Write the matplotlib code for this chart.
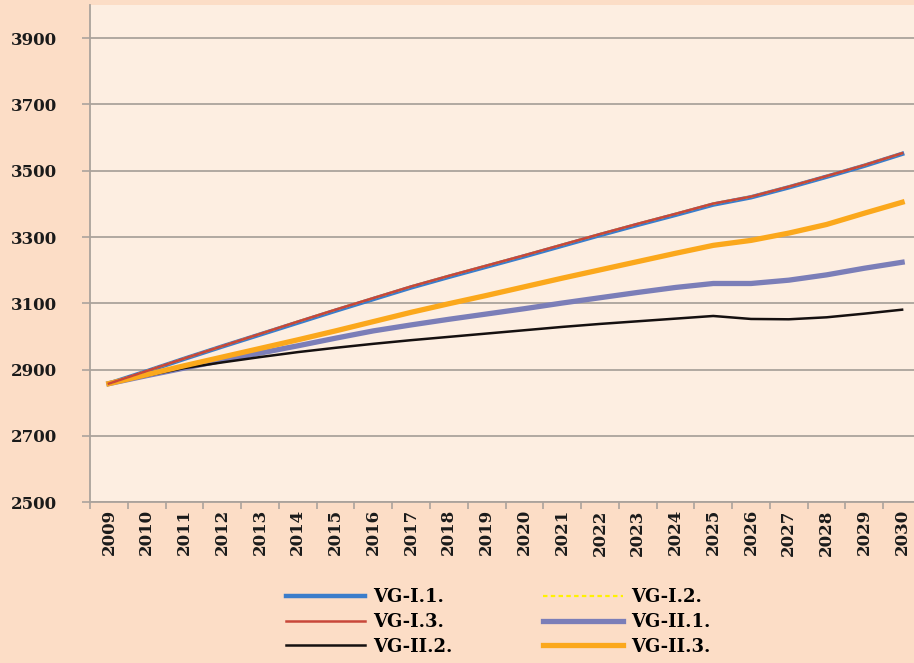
import matplotlib
matplotlib.use("Agg")
import matplotlib.pyplot as plt
import numpy as np

years = [str(y) for y in range(2009, 2031)]

vg_i1 = [2858, 2895, 2933, 2970, 3006, 3042, 3078, 3113, 3148, 3180, 3211, 3242,
         3274, 3306, 3337, 3367, 3398, 3420, 3450, 3482, 3515, 3551]
vg_i2 = [2858, 2896, 2934, 2971, 3008, 3045, 3081, 3116, 3151, 3183, 3214, 3245,
         3277, 3309, 3340, 3370, 3401, 3422, 3452, 3484, 3517, 3553]
vg_i3 = [2858, 2896, 2934, 2971, 3008, 3045, 3081, 3116, 3151, 3183, 3214, 3245,
         3277, 3309, 3340, 3370, 3401, 3422, 3452, 3484, 3517, 3553]
vg_ii1 = [2858, 2882, 2905, 2928, 2950, 2972, 2995, 3017, 3035, 3052, 3068, 3084,
          3101, 3117, 3133, 3148, 3160, 3160, 3170, 3186, 3206, 3224]
vg_ii2 = [2858, 2882, 2905, 2922, 2938, 2953, 2966, 2978, 2989, 2999, 3009, 3019,
          3029, 3038, 3046, 3054, 3062, 3053, 3052, 3058, 3069, 3081]
vg_ii3 = [2858, 2885, 2912, 2938, 2964, 2990, 3017, 3045, 3073, 3099, 3124, 3150,
          3176, 3201, 3226, 3251, 3275, 3290, 3312, 3338, 3372, 3405]

yticks = [2500, 2700, 2900, 3100, 3300, 3500, 3700, 3900]

outer_bg = "#FCDDC6"
plot_bg = "#FDEEE1"
grid_c = "#ABA39C"

fig = plt.figure(figsize=(9.14, 6.63), dpi=100, facecolor=outer_bg)
ax = fig.add_axes([90/914, 160.7/663, 831/914, 497.3/663])
ax.set_facecolor(plot_bg)

x = np.arange(len(years))
h1, = ax.plot(x, vg_i1, color="#3B7DCB", lw=3.2, label="VG-I.1.", zorder=3)
h2, = ax.plot(x, vg_i2, color="#FFF200", lw=1.6, ls=(0, (2, 1.5)), label="VG-I.2.", zorder=4)
h3, = ax.plot(x, vg_i3, color="#C8473A", lw=1.8, label="VG-I.3.", zorder=5)
h4, = ax.plot(x, vg_ii1, color="#7B7EB8", lw=3.8, label="VG-II.1.", zorder=3)
h5, = ax.plot(x, vg_ii2, color="#151010", lw=1.8, label="VG-II.2.", zorder=3)
h6, = ax.plot(x, vg_ii3, color="#FBA81C", lw=3.8, label="VG-II.3.", zorder=3)

ax.set_xlim(-0.5, len(years) - 0.5)
ax.set_ylim(2500, 4000)
ax.set_yticks(yticks)
ax.set_yticklabels([str(v) for v in yticks])
ax.set_xticks(x)
ax.set_xticklabels(years, rotation=90)
ax.set_xticks(np.arange(len(years) + 1) - 0.5, minor=True)

ax.yaxis.grid(True, color=grid_c, lw=1.3)
ax.set_axisbelow(True)

for s in ["top", "right"]:
    ax.spines[s].set_visible(False)
for s in ["left", "bottom"]:
    ax.spines[s].set_color(grid_c)
    ax.spines[s].set_linewidth(1.3)

ax.tick_params(axis="x", which="major", length=0, pad=5)
ax.tick_params(axis="x", which="minor", length=5, color=grid_c, width=1.2, direction="out")
ax.tick_params(axis="y", length=6, color=grid_c, width=1.2, pad=18)

for lab in ax.get_xticklabels() + ax.get_yticklabels():
    lab.set_fontfamily("DejaVu Serif")
    lab.set_fontweight("bold")
    lab.set_fontsize(12)
    lab.set_color("#1A1A1A")

fig.legend(handles=[h1, h3, h5, h2, h4, h6], ncol=2, loc="center",
           bbox_to_anchor=(0.545, 0.062), frameon=False,
           prop={"family": "DejaVu Serif", "weight": "bold", "size": 13},
           handlelength=4.4, columnspacing=5.0, labelspacing=0.38, handletextpad=0.45)

fig.savefig("out.png", dpi=100, facecolor=outer_bg)
